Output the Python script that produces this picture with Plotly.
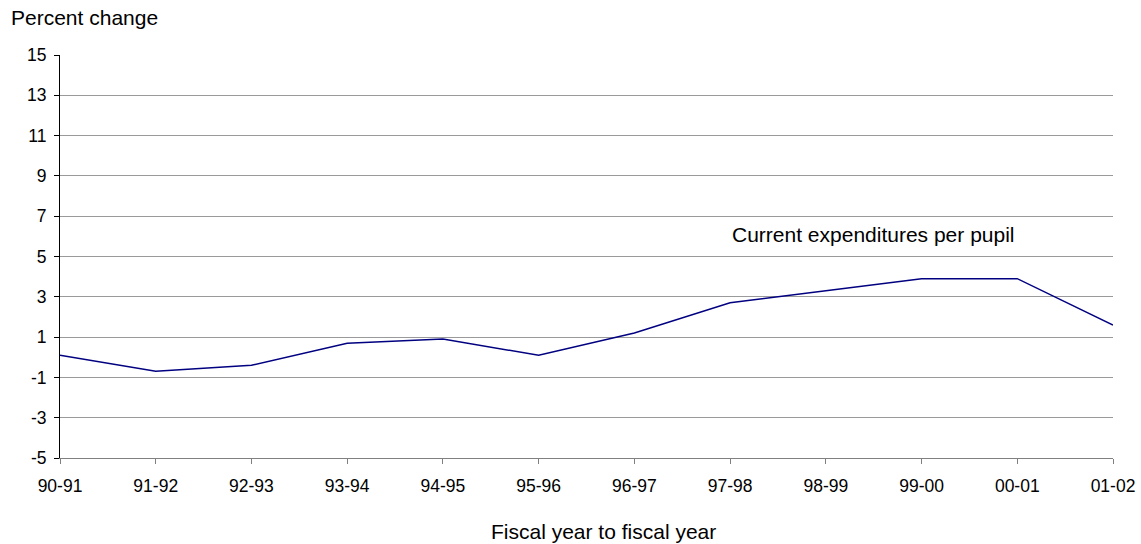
import plotly.graph_objects as go

years = ["90-91", "91-92", "92-93", "93-94", "94-95", "95-96",
         "96-97", "97-98", "98-99", "99-00", "00-01", "01-02"]
pct_change = [0.1, -0.7, -0.4, 0.7, 0.9, 0.1, 1.2, 2.7, 3.3, 3.9, 3.9, 1.6]
y_ticks = [-5, -3, -1, 1, 3, 5, 7, 9, 11, 13, 15]
y_tick_labels = ["-5", "-3", "-1", "1", "3", "5", "7", "9", "11", "13", "15"]

FONT = "Liberation Sans, Arial, sans-serif"

fig = go.Figure()
fig.add_trace(go.Scatter(
    x=years, y=pct_change, mode="lines",
    line=dict(color="#000080", width=1.5),
    showlegend=False, hoverinfo="x+y",
))

fig.update_layout(
    width=1141, height=544,
    margin=dict(l=60, r=28, t=55, b=86, autoexpand=False),
    paper_bgcolor="white", plot_bgcolor="white",
    font=dict(family=FONT, size=17.5, color="black"),
    xaxis=dict(
        type="category", range=[0, len(years) - 1], automargin=False,
        showgrid=False, zeroline=False,
        showline=True, linecolor="#808080", linewidth=1,
        ticks="outside", ticklen=5, tickcolor="#808080",
        ticklabelstandoff=7,
        tickfont=dict(size=17.5),
    ),
    yaxis=dict(
        range=[-5, 15], tickmode="array", tickvals=y_ticks,
        ticktext=y_tick_labels, automargin=False,
        showgrid=True, gridcolor="#9a9a9a", gridwidth=1,
        zeroline=False,
        showline=True, linecolor="black", linewidth=1,
        ticks="outside", ticklen=5, tickcolor="black",
        ticklabelstandoff=4,
        tickfont=dict(size=17.5),
    ),
    annotations=[
        dict(text="Percent change", xref="paper", yref="paper",
             x=-0.0484, y=1.092, xanchor="left", yanchor="middle",
             showarrow=False, font=dict(size=21)),
        dict(text="Fiscal year to fiscal year", xref="paper", yref="paper",
             x=0.5157, y=-0.1836, xanchor="center", yanchor="middle",
             showarrow=False, font=dict(size=21)),
        dict(text="Current expenditures per pupil", xref="x", yref="y",
             x=7, y=6.1, xanchor="left", yanchor="middle",
             showarrow=False, font=dict(size=21)),
    ],
)

fig.write_html("out.html", config={"displayModeBar": False},
               post_script="document.body.style.margin='0';document.body.style.overflow='hidden';")
